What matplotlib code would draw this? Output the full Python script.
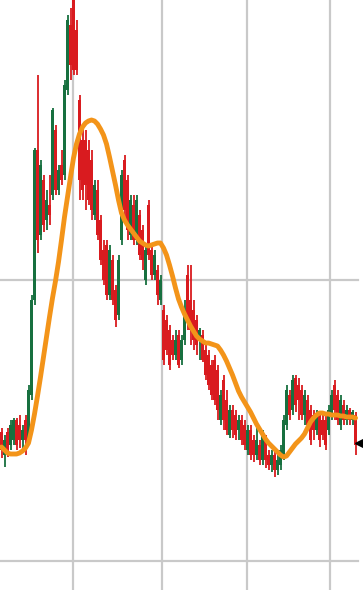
import numpy as np
import matplotlib
matplotlib.use("Agg")
import matplotlib.pyplot as plt

# candle data (one candle per session), price in chart units
opens = [158, 135, 158, 145, 150, 170, 165, 150, 170, 150,
         195, 290, 440, 355, 410, 370, 385, 395, 460, 400,
         425, 415, 500, 565, 590, 560, 490, 450, 450, 440,
         430, 375, 400, 370, 340, 345, 295, 330, 300, 275,
         350, 430, 410, 355, 385, 350, 375, 360, 310, 385,
         340, 315, 320, 290, 280, 270, 260, 250, 235, 255,
         230, 250, 315, 290, 280, 270, 250, 255, 240, 235,
         225, 230, 220, 170, 210, 190, 155, 180, 175, 160,
         170, 165, 140, 160, 150, 135, 145, 130, 150, 135,
         125, 135, 120, 125, 135, 165, 195, 180, 212, 205,
         200, 175, 190, 180, 175, 160, 175, 170, 170, 160,
         175, 205, 195, 165, 185, 170, 180, 170, 175]
highs = [162, 155, 162, 170, 172, 172, 175, 165, 175, 205,
         295, 442, 515, 430, 415, 400, 415, 482, 465, 425,
         440, 510, 575, 582, 600, 570, 495, 465, 460, 450,
         440, 410, 410, 375, 350, 350, 345, 335, 305, 335,
         420, 435, 415, 395, 395, 395, 380, 365, 345, 390,
         345, 340, 325, 315, 285, 275, 265, 255, 260, 260,
         255, 290, 325, 325, 290, 275, 262, 260, 245, 240,
         230, 235, 225, 200, 215, 200, 185, 185, 180, 175,
         175, 170, 165, 165, 155, 162, 150, 160, 155, 140,
         140, 140, 135, 145, 175, 205, 200, 215, 215, 212,
         205, 200, 195, 185, 180, 180, 178, 175, 175, 185,
         200, 210, 200, 195, 190, 185, 182, 180, 178]
lows = [132, 123, 133, 140, 145, 140, 142, 140, 135, 145,
        190, 285, 337, 350, 358, 360, 365, 390, 395, 395,
        405, 410, 495, 510, 515, 515, 390, 390, 380, 385,
        370, 370, 350, 325, 305, 290, 290, 285, 263, 270,
        345, 370, 350, 350, 345, 345, 330, 320, 305, 330,
        310, 310, 285, 285, 225, 235, 220, 230, 230, 222,
        225, 245, 260, 245, 240, 235, 230, 228, 210, 200,
        190, 185, 170, 165, 160, 155, 152, 152, 150, 150,
        145, 140, 135, 130, 128, 130, 125, 125, 122, 120,
        118, 113, 115, 120, 130, 160, 170, 175, 178, 170,
        170, 165, 160, 145, 150, 155, 143, 150, 140, 155,
        170, 170, 165, 160, 165, 165, 165, 165, 135]
closes = [140, 150, 140, 165, 170, 145, 150, 160, 150, 200,
          290, 440, 350, 425, 365, 390, 375, 480, 400, 420,
          410, 505, 570, 525, 520, 520, 410, 400, 405, 390,
          380, 405, 355, 330, 310, 295, 340, 290, 270, 330,
          415, 380, 360, 390, 350, 390, 335, 330, 340, 335,
          315, 335, 295, 310, 230, 240, 225, 235, 250, 225,
          250, 280, 270, 260, 250, 245, 260, 230, 215, 205,
          195, 190, 180, 195, 170, 160, 180, 160, 155, 170,
          150, 145, 160, 135, 135, 150, 130, 155, 130, 125,
          135, 120, 130, 140, 170, 200, 175, 210, 185, 190,
          175, 195, 165, 150, 160, 175, 150, 155, 145, 180,
          195, 180, 170, 190, 170, 180, 170, 178, 145]

# moving average line
ma = [143, 140, 137, 136, 136, 136, 137, 139, 142, 147,
      160, 176, 194, 213, 233, 253, 273, 292, 309, 328,
      350, 373, 393, 413, 432, 446, 456, 463, 467, 469,
      470, 469, 466, 461, 455, 446, 433, 419, 405, 390,
      377, 370, 365, 361, 357, 353, 349, 347, 345, 344,
      345, 346, 347, 347, 342, 335, 325, 314, 302, 291,
      283, 276, 270, 264, 259, 254, 251, 249, 247, 247,
      246, 245, 244, 240, 235, 229, 222, 215, 207, 199,
      193, 188, 183, 178, 172, 166, 161, 156, 151, 147,
      144, 141, 138, 135, 133, 134, 138, 142, 146, 149,
      152, 156, 162, 168, 172, 175, 177, 177, 176, 176,
      175, 175, 175, 174, 174, 173, 173, 173, 172]

grid_x = [23.8, 53.5, 81.8, 109.5]
grid_y = [29, 310]

up_color = "#17703f"
down_color = "#d91b1f"
ma_color = "#f39419"

o = np.array(opens)
h = np.array(highs)
l = np.array(lows)
c = np.array(closes)
x = np.arange(len(o))
colors = np.where(c >= o, up_color, down_color)

fig = plt.figure(figsize=(3.63, 5.90), dpi=100)
ax = fig.add_axes([0, 0, 1, 1])

# grid
for gx in grid_x:
    ax.axvline(gx, color="#c9c9c9", linewidth=1.6, zorder=0)
for gy in grid_y:
    ax.axhline(gy, xmin=0, xmax=358 / 363, color="#c9c9c9", linewidth=1.6, zorder=0)

# candles
ax.vlines(x, l, h, colors=colors, linewidth=1.3, zorder=2)
ax.bar(x, np.abs(c - o), bottom=np.minimum(o, c), width=0.85,
       color=colors, linewidth=0, zorder=2)

# moving average
ax.plot(x, ma, color=ma_color, linewidth=3.5, solid_capstyle="round", zorder=3)

# last price marker
ax.plot([120.6], [c[-1] + 2], marker="<", color="black", markersize=12,
        clip_on=False, zorder=4)

ax.set_xlim(-0.5, 120.5)
ax.set_ylim(0, 590)
for s in ax.spines.values():
    s.set_visible(False)
ax.set_xticks([])
ax.set_yticks([])

fig.savefig("out.png", dpi=100)
